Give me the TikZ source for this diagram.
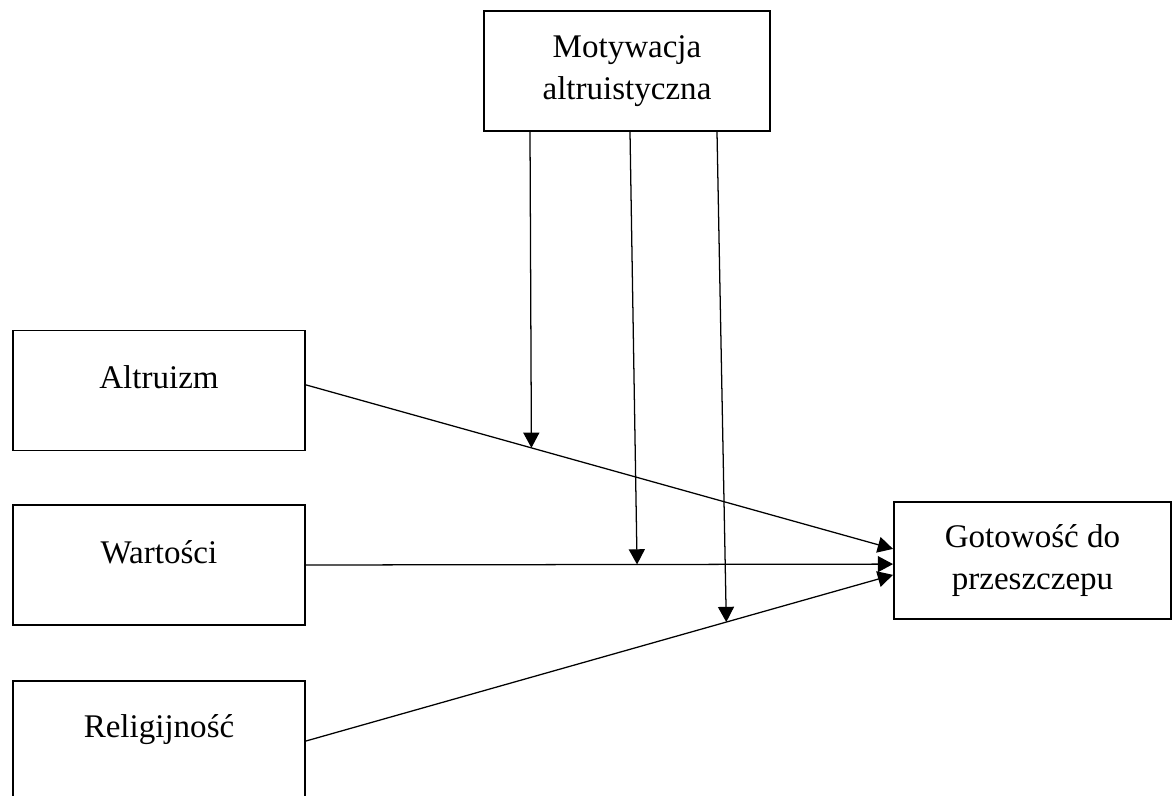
\documentclass[tikz,border=0pt]{standalone}
\usepackage{fontspec}
\setmainfont{Liberation Serif}
\usetikzlibrary{arrows.meta,positioning}

\begin{document}
\begin{tikzpicture}[
  every node/.style={font=\fontsize{23.5}{30}\selectfont},
  var/.style={draw, line width=1.4pt, minimum width=7.3cm, minimum height=3cm,
              align=center, inner sep=2pt},
  lift/.style={text depth=0.65cm},
  arr/.style={-{Triangle[length=0.38cm, width=0.4cm]}, line width=0.9pt}
]
  \useasboundingbox (0,0) rectangle (29.35,-19.9);

  \node[var] (mot) at (15.675,-1.775) [minimum width=7.15cm] {Motywacja\\ altruistyczna};
  \node[var, lift] (alt) at (3.975,-9.7625) {Altruizm};
  \node[var, lift] (war) at (3.975,-14.125) {Wartości};
  \node[var, lift, text depth=0.75cm] (rel) at (3.975,-18.525) {Religijność};
  \node[var, minimum width=6.925cm, minimum height=2.925cm] (got) at (25.8125,-14.0125)
    {Gotowość do\\ przeszczepu};

  % predictors -> outcome
  \draw[arr] ([yshift=0.14cm]alt.east) -- coordinate[pos=0.384] (m1) ([yshift=0.29cm]got.west);
  \draw[arr] (war.east) -- coordinate[pos=0.564] (m2) ([yshift=-0.09cm]got.west);
  \draw[arr] (rel.east) -- coordinate[pos=0.716] (m3) ([yshift=-0.36cm]got.west);

  % moderation
  \draw[arr] ([xshift=-2.425cm]mot.south) -- (m1);
  \draw[arr] ([xshift=0.075cm]mot.south) -- (m2);
  \draw[arr] ([xshift=2.25cm]mot.south) -- (m3);
\end{tikzpicture}
\end{document}
